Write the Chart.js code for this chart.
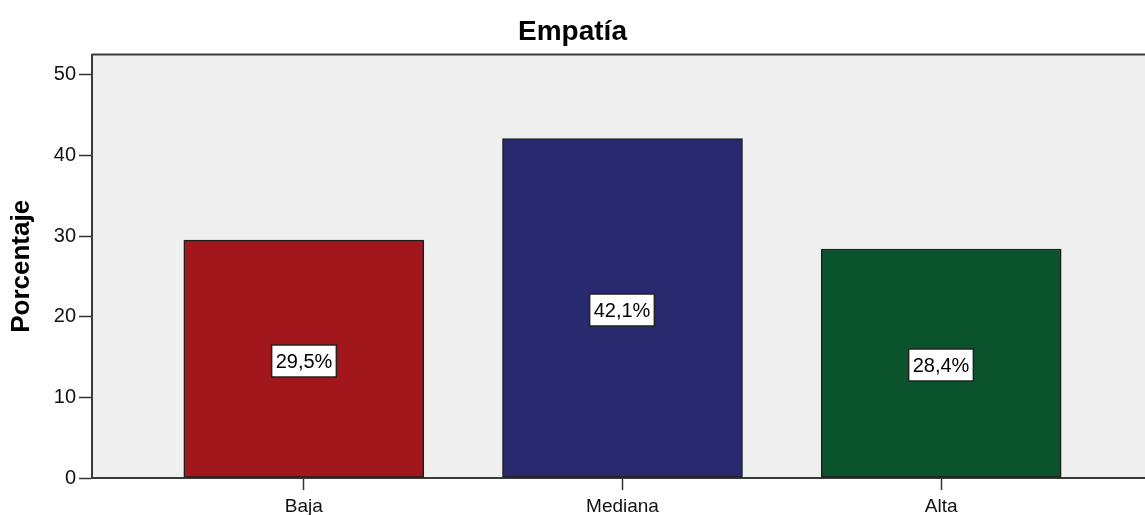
<!DOCTYPE html>
<html>
<head>
<meta charset="utf-8">
<script src="https://cdn.jsdelivr.net/npm/chart.js@4.4.1/dist/chart.umd.min.js"></script>
<style>
html,body{margin:0;padding:0;background:#fff;overflow:hidden;}
canvas{display:block;}
</style>
</head>
<body>
<canvas id="c" width="1145" height="515"></canvas>
<script>
const categories = ['Baja', 'Mediana', 'Alta'];
const percentages = [29.5, 42.1, 28.4];
const yTicks = [0, 10, 20, 30, 40, 50];
const barColors = ['#A2171B', '#28296F', '#0B532D'];

const FONT = "'Liberation Sans', Arial, sans-serif";

const framePlugin = {
  id: 'frame',
  beforeDraw(chart) {
    const {ctx, chartArea: a} = chart;
    ctx.save();
    ctx.fillStyle = '#EFEFEF';
    ctx.fillRect(a.left, a.top, a.right - a.left, a.bottom - a.top);
    ctx.strokeStyle = '#3a3a3a';
    ctx.lineWidth = 2;
    ctx.beginPath();
    ctx.moveTo(a.left, a.top);
    ctx.lineTo(a.right, a.top);
    ctx.stroke();
    ctx.restore();
  }
};

const labelPlugin = {
  id: 'barLabels',
  afterDatasetsDraw(chart) {
    const {ctx} = chart;
    const meta = chart.getDatasetMeta(0);
    ctx.save();
    ctx.font = '20px ' + FONT;
    ctx.textAlign = 'center';
    ctx.textBaseline = 'middle';
    meta.data.forEach((bar, i) => {
      const p = bar.getProps(['x', 'y', 'base'], true);
      const txt = percentages[i].toFixed(1).replace('.', ',') + '%';
      const w = ctx.measureText(txt).width + 8;
      const h = 32;
      const cx = Math.round(p.x);
      const cy = Math.round((p.y + p.base) / 2) + 2;
      ctx.fillStyle = '#ffffff';
      ctx.fillRect(cx - w / 2, cy - h / 2, w, h);
      ctx.strokeStyle = '#222';
      ctx.lineWidth = 1.5;
      ctx.strokeRect(cx - w / 2, cy - h / 2, w, h);
      ctx.fillStyle = '#000';
      ctx.fillText(txt, cx, cy + 1);
    });
    ctx.restore();
  }
};

new Chart(document.getElementById('c'), {
  type: 'bar',
  data: {
    datasets: [{
      data: categories.map((c, i) => ({x: i + 1, y: percentages[i]})),
      backgroundColor: barColors,
      borderColor: '#1e1e1e',
      borderWidth: 1.5,
      borderSkipped: false,
      barThickness: 240
    }]
  },
  options: {
    responsive: false,
    animation: false,
    events: [],
    layout: {padding: {left: 0, right: 0, top: 0, bottom: 0}},
    plugins: {
      legend: {display: false},
      tooltip: {enabled: false},
      title: {
        display: true,
        text: 'Empatía',
        color: '#000',
        font: {family: FONT, size: 28, weight: 'bold', lineHeight: 1.2},
        padding: {top: 15, bottom: 6}
      }
    },
    scales: {
      x: {
        type: 'linear',
        offset: false,
        min: 1 - 212 / 319,
        max: 3 + 204 / 319,
        afterFit(s) { s.height = 37; },
        grid: {display: true, offset: false, drawOnChartArea: false, drawTicks: true, tickLength: 12, tickColor: '#333', tickWidth: 1.5},
        border: {display: true, color: '#3a3a3a', width: 2},
        ticks: {
          stepSize: 1,
          includeBounds: false,
          autoSkip: false,
          maxRotation: 0,
          padding: 5,
          color: '#111',
          font: {family: FONT, size: 19},
          callback: v => categories[v - 1] || ''
        }
      },
      y: {
        min: 0,
        max: 52.5,
        afterFit(s) { s.width = 92; },
        grid: {display: true, drawOnChartArea: false, drawTicks: true, tickLength: 13, tickColor: '#333', tickWidth: 1.5},
        border: {display: true, color: '#3a3a3a', width: 2},
        afterBuildTicks(s) { s.ticks = yTicks.map(v => ({value: v})); },
        ticks: {
          padding: 3,
          color: '#111',
          font: {family: FONT, size: 20},
          callback: v => String(v)
        },
        title: {
          display: true,
          text: 'Porcentaje',
          color: '#000',
          font: {family: FONT, size: 26, weight: 'bold', lineHeight: 1.2},
          padding: {top: 6, bottom: 0}
        }
      }
    }
  },
  plugins: [framePlugin, labelPlugin]
});
</script>
</body>
</html>
